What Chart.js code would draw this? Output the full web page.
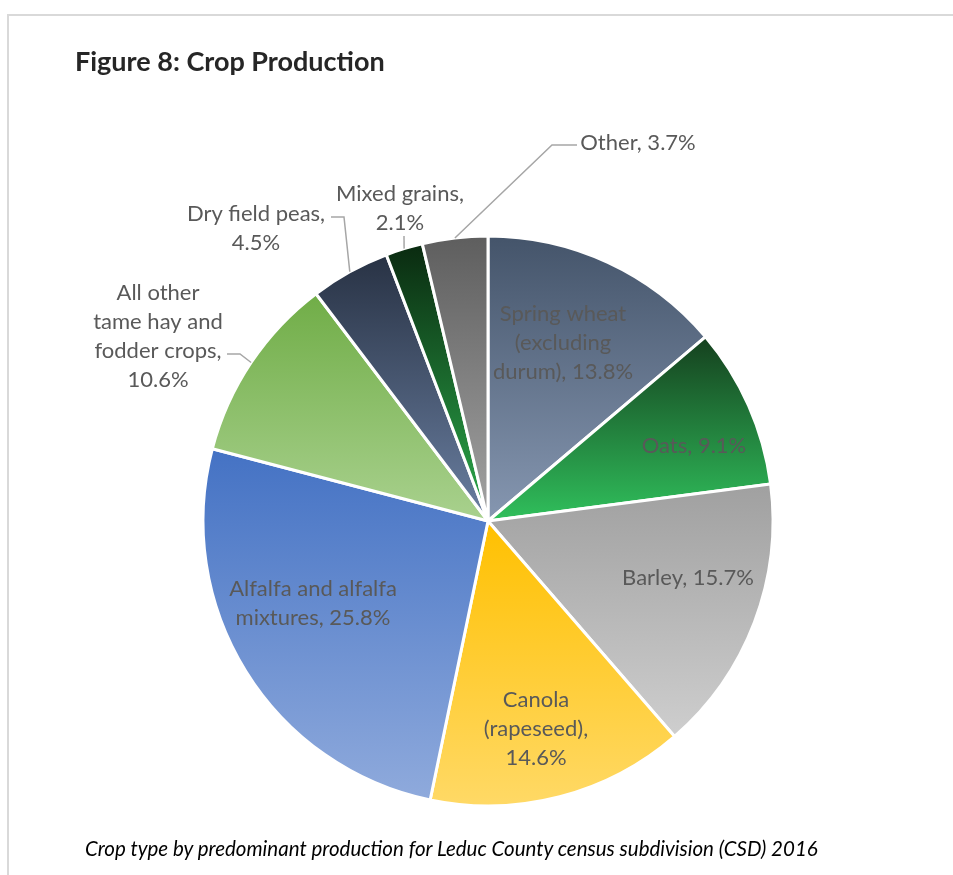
<!DOCTYPE html>
<html>
<head>
<meta charset="utf-8">
<script src="https://cdn.jsdelivr.net/npm/chart.js@4/dist/chart.umd.min.js"></script>
<style>
  html, body { margin: 0; padding: 0; background: #fff; }
  #page { position: relative; width: 953px; height: 875px; overflow: hidden; }
  #frame {
    position: absolute; left: 7px; top: 14px; width: 1000px; height: 1000px;
    border-left: 2px solid #d9d9d9; border-top: 2px solid #d9d9d9;
  }
  #title {
    position: absolute; left: 75px; top: 44px;
    font: bold 27px Lato, sans-serif; color: #262626;
  }
  #caption {
    position: absolute; left: 85px; top: 836px;
    font: italic 20.5px Lato, sans-serif; color: #000;
  }
  #crops { position: absolute; left: 0; top: 0; }
</style>
</head>
<body>
<div id="page">
  <div id="frame"></div>
  <canvas id="crops" width="953" height="875"></canvas>
  <div id="title">Figure 8: Crop Production</div>
  <div id="caption">Crop type by predominant production for Leduc County census subdivision (CSD) 2016</div>
</div>
<script>
'use strict';

const categories = [
  'Spring wheat (excluding durum)',
  'Oats',
  'Barley',
  'Canola (rapeseed)',
  'Alfalfa and alfalfa mixtures',
  'All other tame hay and fodder crops',
  'Dry field peas',
  'Mixed grains',
  'Other',
];
const shares = [13.8, 9.1, 15.7, 14.6, 25.8, 10.6, 4.5, 2.1, 3.7];

// gradient colours per slice, top of the slice to bottom
const topColors = ['#44546a', '#15401e', '#a0a0a0', '#ffc000', '#4472c4', '#70ad47', '#283244', '#0a2a10', '#5e5e5e'];
const bottomColors = ['#8697b1', '#30c05c', '#cecece', '#ffd966', '#8faadc', '#a9d18e', '#6a7fa1', '#2cab4c', '#a3a3a3'];

// label placement relative to the pie centre; words per line; optional leader elbow
const labelLayout = [
  { dx: 75, dy: -178, lines: [2, 1, 2] },
  { dx: 206, dy: -75, lines: [2] },
  { dx: 200, dy: 57, lines: [2] },
  { dx: 48, dy: 208, lines: [1, 1, 1] },
  { dx: -175, dy: 82, lines: [3, 2] },
  { dx: -330, dy: -185, lines: [2, 3, 2, 1], leader: [[-261, -167], [-248, -167]] },
  { dx: -232, dy: -293, lines: [3, 1], leader: [[-157, -304], [-144, -304]] },
  { dx: -88, dy: -313, lines: [2, 1], leader: [[-84, -285]] },
  { dx: 150, dy: -378, lines: [2], leader: [[89, -376], [64, -376]] },
];

const PIE_RADIUS = 285;
const LABEL_FONT = '22px Lato, sans-serif';
const LINE_HEIGHT = 29;

function sliceYRange(i, cy, r) {
  const total = shares.reduce((a, b) => a + b, 0);
  const before = shares.slice(0, i).reduce((a, b) => a + b, 0);
  const start = (before / total) * 2 * Math.PI - Math.PI / 2;
  const end = start + (shares[i] / total) * 2 * Math.PI;
  const ys = [cy, cy + r * Math.sin(start), cy + r * Math.sin(end)];
  [-Math.PI / 2, Math.PI / 2, 1.5 * Math.PI].forEach(a => {
    if (a >= start && a <= end) ys.push(cy + r * Math.sin(a));
  });
  return [Math.min(...ys), Math.max(...ys)];
}

function sliceFill(context) {
  const chart = context.chart;
  const area = chart.chartArea;
  const i = context.dataIndex;
  if (!area) return topColors[i];
  const cy = (area.top + area.bottom) / 2;
  const [y0, y1] = sliceYRange(i, cy, PIE_RADIUS);
  const g = chart.ctx.createLinearGradient(0, y0, 0, y1);
  g.addColorStop(0, topColors[i]);
  g.addColorStop(1, bottomColors[i]);
  return g;
}

function labelLines(i) {
  const words = (categories[i] + ', ' + shares[i].toFixed(1) + '%').split(' ');
  const out = [];
  let k = 0;
  labelLayout[i].lines.forEach(n => {
    out.push(words.slice(k, k + n).join(' '));
    k += n;
  });
  return out;
}

const sliceLabels = {
  id: 'sliceLabels',
  afterDatasetsDraw(chart) {
    const ctx = chart.ctx;
    const arcs = chart.getDatasetMeta(0).data;
    ctx.save();
    arcs.forEach((arc, i) => {
      const lay = labelLayout[i];
      const cx = arc.x, cy = arc.y;
      if (lay.leader) {
        const mid = (arc.startAngle + arc.endAngle) / 2;
        ctx.beginPath();
        ctx.strokeStyle = '#a6a6a6';
        ctx.lineWidth = 1.5;
        lay.leader.forEach(([px, py], j) => {
          if (j === 0) ctx.moveTo(cx + px, cy + py);
          else ctx.lineTo(cx + px, cy + py);
        });
        ctx.lineTo(cx + Math.cos(mid) * arc.outerRadius, cy + Math.sin(mid) * arc.outerRadius);
        ctx.stroke();
      }
      const lines = labelLines(i);
      ctx.font = LABEL_FONT;
      ctx.fillStyle = '#595959';
      ctx.textAlign = 'center';
      ctx.textBaseline = 'middle';
      const y0 = cy + lay.dy - ((lines.length - 1) * LINE_HEIGHT) / 2;
      lines.forEach((t, j) => ctx.fillText(t, cx + lay.dx, y0 + j * LINE_HEIGHT));
    });
    ctx.restore();
  },
};

new Chart(document.getElementById('crops').getContext('2d'), {
  type: 'pie',
  data: {
    labels: categories,
    datasets: [
      {
        data: shares,
        backgroundColor: sliceFill,
        borderColor: '#ffffff',
        borderWidth: 3,
        radius: PIE_RADIUS,
      },
    ],
  },
  options: {
    responsive: false,
    animation: false,
    events: [],
    layout: { padding: { left: 200, right: 177, top: 200, bottom: 33 } },
    plugins: {
      legend: { display: false },
      tooltip: { enabled: false },
    },
  },
  plugins: [sliceLabels],
});
</script>
</body>
</html>
